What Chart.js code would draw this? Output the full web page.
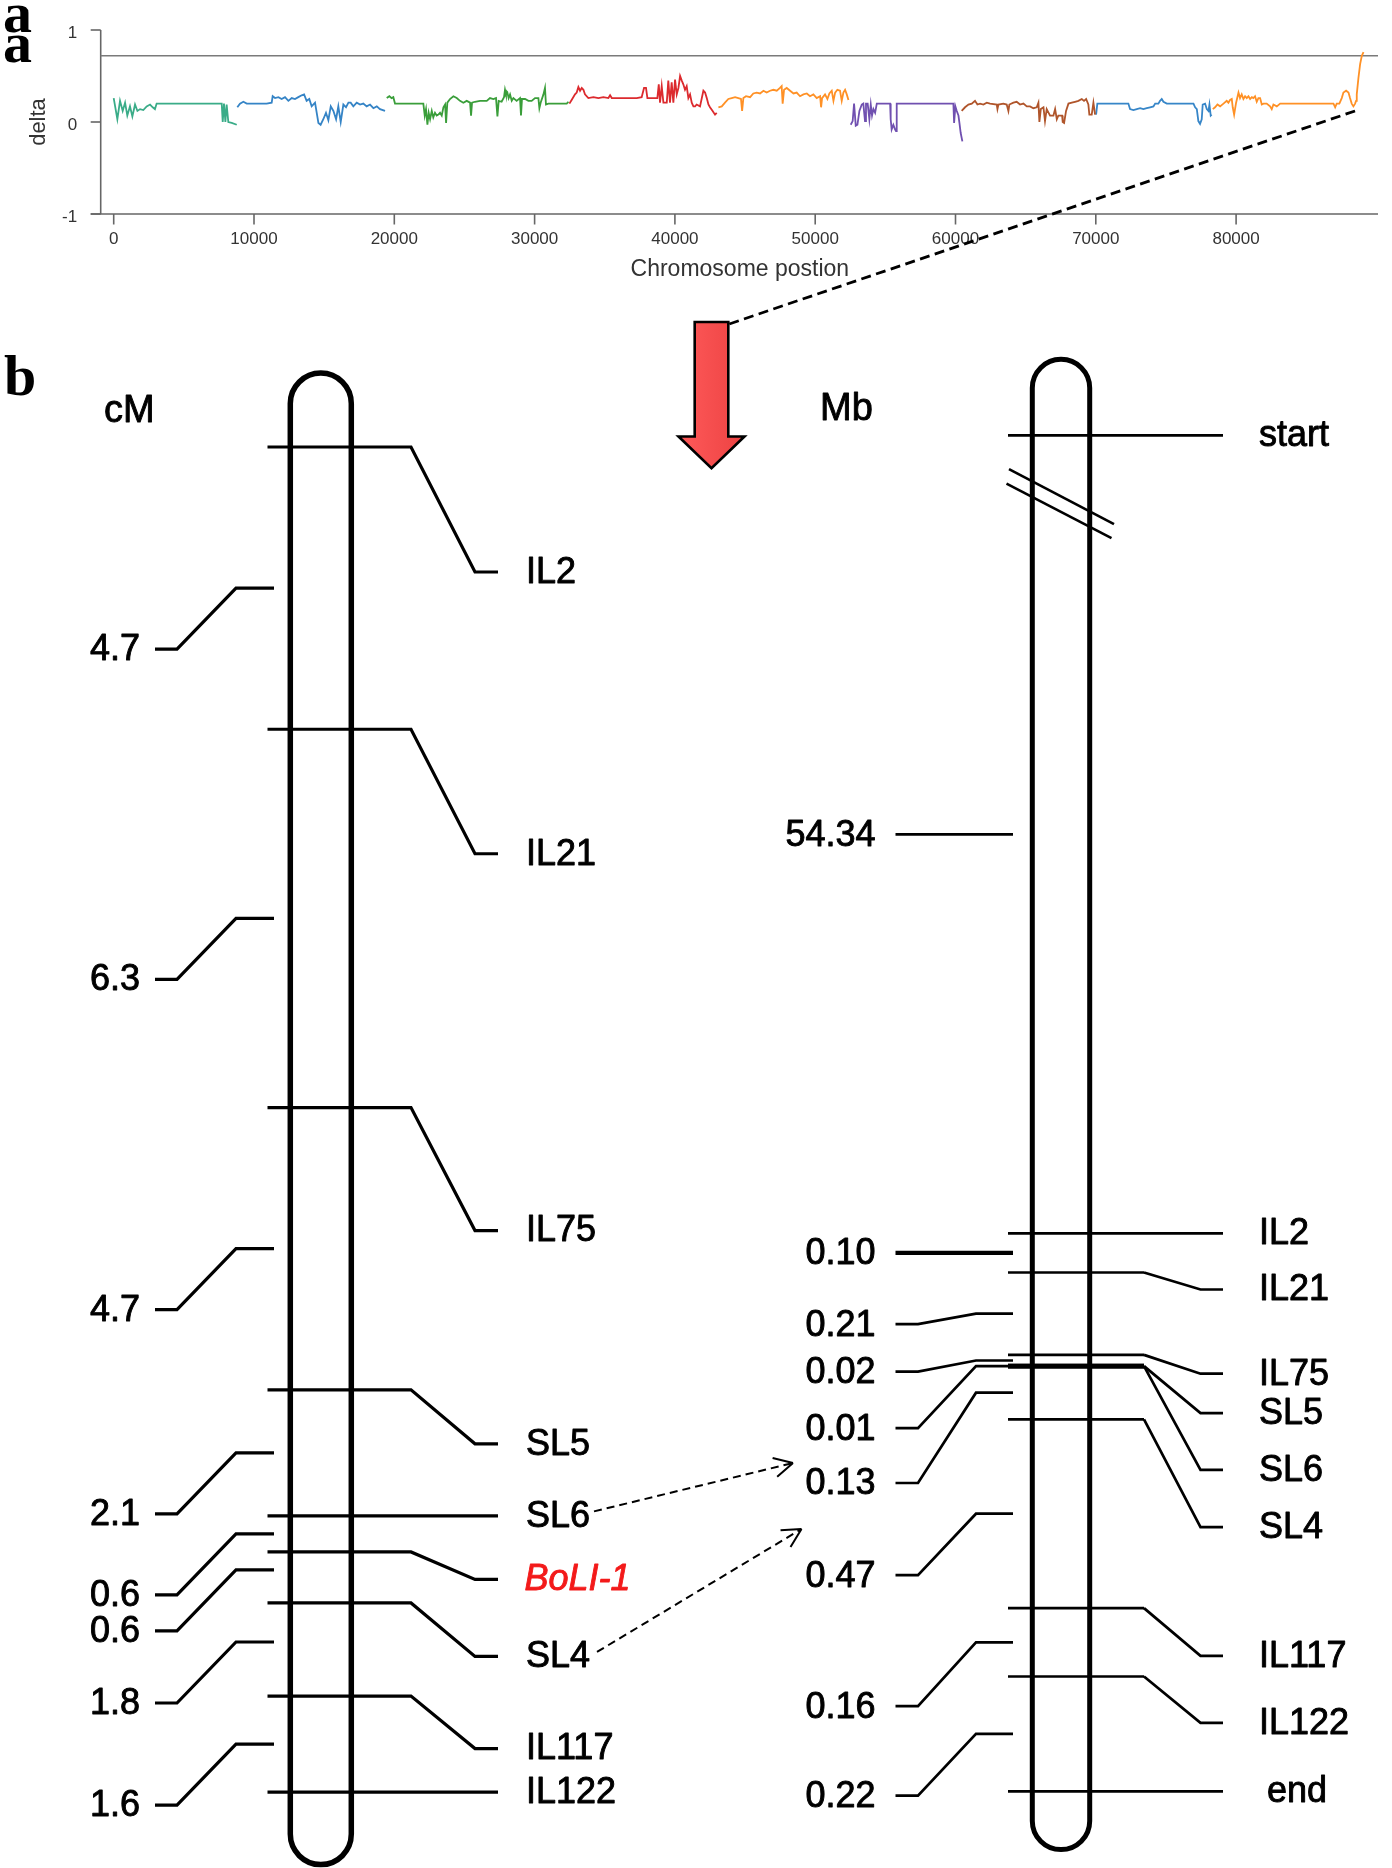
<!DOCTYPE html>
<html lang="en">
<head>
  <meta charset="UTF-8" />
  <title>delta along chromosome / BoLI-1 map</title>
  <style>
    html, body { margin: 0; padding: 0; background: #fff; }
    #wrap { position: relative; width: 1392px; height: 1868px; }
    canvas { position: absolute; left: 0; top: 0; }
    #mapChart { pointer-events: none; }
  </style>
</head>
<body>
  <div id="wrap">
    <canvas id="deltaChart" width="1392" height="290"></canvas>
    <canvas id="mapChart" width="1392" height="1868"></canvas>
  </div>

  <script src="https://cdn.jsdelivr.net/npm/chart.js"></script>
  <script>
    // ---------- panel a : delta along the chromosome ----------
    const xTicks = [0, 10000, 20000, 30000, 40000, 50000, 60000, 70000, 80000];
    const yTicks = [1, 0, -1];
    const threshold = 0.72;

    // [position, delta]
    const seg1 = [[0,0.26],[260,0.03],[450,0.23],[640,0.12],[810,0.21],[970,0.07],[1160,0.17],[1330,0.06],[1520,0.19],[1690,0.12],[1880,0.14],[2110,0.13],[2350,0.17],[2590,0.19],[2780,0.16],[2940,0.14],[3060,0.2],[3180,0.2],[7700,0.2],[7770,0.0],[7860,0.2],[7960,0.0],[8050,0.19],[8170,0.0],[8410,-0.01],[8770,-0.03]];
    const seg2 = [[8810,0.16],[9000,0.2],[9240,0.22],[9480,0.2],[10900,0.2],[11260,0.21],[11330,0.28],[11500,0.26],[11740,0.27],[11970,0.25],[12210,0.27],[12450,0.23],[12690,0.26],[12920,0.25],[13160,0.27],[13400,0.29],[13570,0.3],[13750,0.23],[13940,0.25],[14110,0.17],[14350,0.21],[14590,-0.01],[14750,-0.03],[14940,0.03],[15130,0.1],[15300,0.02],[15470,0.17],[15660,0.12],[15850,0.03],[16010,0.17],[16180,0.0],[16370,0.19],[16560,0.16],[16730,0.21],[16890,0.21],[17080,0.17],[17320,0.21],[17560,0.19],[17790,0.2],[18030,0.17],[18270,0.19],[18510,0.15],[18750,0.17],[18980,0.14],[19340,0.12]];
    const seg3 = [[19460,0.26],[19650,0.28],[19810,0.26],[19930,0.27],[20050,0.2],[22070,0.2],[22170,0.07],[22260,0.14],[22360,-0.03],[22450,0.1],[22550,0.03],[22670,0.12],[22780,0.05],[22900,0.1],[23020,0.07],[23140,0.08],[23260,0.1],[23380,0.07],[23500,0.16],[23620,0.19],[23690,-0.01],[23780,0.21],[23970,0.25],[24210,0.28],[24450,0.26],[24680,0.23],[24920,0.21],[25160,0.23],[25400,0.21],[25470,0.07],[25540,0.21],[25750,0.22],[26110,0.23],[26590,0.23],[26820,0.26],[27060,0.25],[27250,0.26],[27350,0.06],[27440,0.23],[27650,0.22],[27820,0.27],[27890,0.35],[27960,0.3],[28060,0.32],[28150,0.26],[28250,0.3],[28370,0.23],[28490,0.26],[28720,0.23],[28960,0.26],[29030,0.07],[29100,0.25],[29320,0.25],[29560,0.23],[29790,0.23],[30030,0.26],[30270,0.26],[30340,0.15],[30430,0.21],[30630,0.3],[30740,0.37],[30810,0.19],[30980,0.2],[32290,0.2],[32410,0.22]];
    const seg4 = [[32480,0.2],[32640,0.24],[32880,0.3],[33000,0.32],[33120,0.38],[33240,0.34],[33360,0.37],[33480,0.35],[33590,0.3],[33830,0.26],[34190,0.27],[34550,0.26],[34900,0.27],[35260,0.26],[35380,0.29],[35500,0.26],[35850,0.26],[36330,0.26],[36800,0.26],[37280,0.26],[37630,0.27],[37800,0.37],[37940,0.37],[38040,0.26],[38470,0.26],[38750,0.26],[38850,0.41],[38940,0.21],[39060,0.39],[39180,0.21],[39420,0.21],[39530,0.45],[39650,0.21],[39770,0.43],[39890,0.21],[40010,0.46],[40130,0.3],[40250,0.37],[40370,0.5],[40490,0.45],[40600,0.41],[40720,0.35],[40840,0.39],[40960,0.26],[41080,0.3],[41200,0.21],[41320,0.17],[41440,0.17],[41550,0.19],[41790,0.17],[42030,0.34],[42150,0.32],[42270,0.26],[42390,0.19],[42500,0.16],[42690,0.12],[42860,0.08],[42980,0.1]];
    const seg5 = [[43100,0.16],[43340,0.17],[43570,0.21],[43810,0.25],[44050,0.26],[44290,0.27],[44520,0.26],[44710,0.25],[44790,0.12],[44880,0.26],[45070,0.28],[45360,0.27],[45590,0.31],[45830,0.32],[46070,0.31],[46310,0.34],[46540,0.32],[46780,0.34],[47020,0.35],[47260,0.34],[47490,0.37],[47610,0.39],[47680,0.2],[47780,0.35],[47970,0.37],[48210,0.34],[48450,0.31],[48680,0.32],[48920,0.28],[49160,0.3],[49400,0.31],[49630,0.28],[49870,0.3],[50110,0.26],[50350,0.28],[50420,0.16],[50490,0.26],[50700,0.3],[50870,0.25],[51010,0.31],[51180,0.34],[51300,0.23],[51420,0.32],[51580,0.35],[51770,0.34],[51890,0.23],[52010,0.32],[52130,0.35],[52250,0.3],[52370,0.24]];
    const seg6 = [[52530,-0.03],[52670,0.01],[52770,0.2],[52890,-0.04],[53010,-0.03],[53150,0.12],[53320,0.19],[53430,0.2],[53550,0.01],[53620,0.2],[53740,0.2],[53860,0.03],[53960,0.19],[54050,0.07],[54150,0.14],[54270,0.1],[54390,0.2],[55340,0.2],[55380,0.03],[55450,-0.08],[55570,-0.03],[55690,-0.08],[55760,-0.1],[55810,0.2],[59850,0.2],[59900,-0.01],[59990,0.17],[60090,0.12],[60210,0.07],[60280,-0.01],[60370,-0.12],[60490,-0.21]];
    const seg7 = [[60440,0.12],[60680,0.16],[60920,0.19],[61160,0.2],[61390,0.23],[61560,0.19],[61750,0.2],[61990,0.19],[62230,0.21],[62460,0.2],[62940,0.19],[62990,0.14],[63060,0.19],[63410,0.2],[63650,0.19],[63770,0.12],[63840,0.19],[64130,0.21],[64360,0.22],[64600,0.19],[64840,0.2],[65080,0.17],[65310,0.17],[65550,0.15],[65790,0.16],[65910,0.21],[65980,0.0],[66080,0.14],[66270,0.16],[66380,0.01],[66500,0.14],[66740,0.07],[66980,0.07],[67100,0.14],[67220,0.03],[67330,0.07],[67600,0.07],[67640,0.0],[67740,-0.01],[67880,0.12],[68050,0.2],[68290,0.21],[68520,0.22],[68760,0.23],[69000,0.25],[69160,0.23],[69310,0.25],[69470,0.19],[69540,0.08],[69710,0.08],[69830,0.21],[69950,0.08]];
    const seg8 = [[70020,0.08],[70110,0.2],[72320,0.2],[72440,0.14],[72680,0.13],[72920,0.14],[73160,0.15],[73390,0.14],[73630,0.15],[73870,0.16],[74110,0.17],[74230,0.2],[74460,0.2],[74580,0.23],[74700,0.25],[74820,0.22],[75060,0.2],[76960,0.2],[77080,0.16],[77200,0.14],[77310,0.01],[77430,-0.02],[77550,0.03],[77620,0.19],[77790,0.2],[77910,0.14],[78030,0.12],[78100,0.19],[78190,0.07],[78260,0.08]];
    const seg9 = [[78340,0.14],[78500,0.16],[78670,0.19],[78860,0.17],[79100,0.2],[79330,0.23],[79450,0.21],[79570,0.24],[79690,0.25],[79760,0.16],[79860,0.08],[80000,0.21],[80170,0.32],[80280,0.26],[80400,0.3],[80520,0.25],[80640,0.28],[80760,0.26],[80880,0.28],[81000,0.25],[81120,0.27],[81230,0.26],[81350,0.28],[81470,0.22],[81590,0.26],[81710,0.26],[81830,0.19],[81950,0.2],[82180,0.2],[82420,0.17],[82540,0.14],[82660,0.19],[82900,0.17],[83140,0.2],[83370,0.2],[86460,0.2],[86940,0.2],[87060,0.16],[87170,0.2],[87360,0.2],[87530,0.26],[87650,0.32],[87840,0.34],[88010,0.32],[88120,0.26],[88240,0.2],[88360,0.17],[88480,0.2],[88550,0.23],[88600,0.3],[88720,0.48],[88840,0.63],[88960,0.72],[89080,0.76]];
    const segments = [seg1, seg2, seg3, seg4, seg5, seg6, seg7, seg8, seg9];

    // ---------- panel b : genetic (cM) and physical (Mb) maps ----------
    const cmMarkers = ["IL2", "IL21", "IL75", "SL5", "SL6", "BoLI-1", "SL4", "IL117", "IL122"];
    const cmMarkerPos = [0, 4.7, 11.0, 15.7, 17.8, 18.4, 19.25, 20.8, 22.4];
    const cmIntervals = [4.7, 6.3, 4.7, 2.1, 0.6, 0.6, 1.8, 1.6];

    const mbMarkers = ["start", "IL2", "IL21", "IL75", "SL5", "SL6", "SL4", "IL117", "IL122", "end"];
    // drawn positions (Mb from IL2, the part above IL2 is broken)
    const mbMarkerPos = [-1.995, 0, 0.098, 0.304, 0.332, 0.332, 0.465, 0.937, 1.108, 1.395];
    const mbIntervals = ["54.34", "0.10", "0.21", "0.02", "0.01", "0.13", "0.47", "0.16", "0.22"];

    // ---------- styles / layout ----------
    const segColors = ["#3aac88", "#3584c6", "#3a9e3a", "#dc2a2e", "#ff9126", "#7050b0", "#b0552b", "#3786c8", "#ff9126"];
    const SANS = '"Liberation Sans", Arial, sans-serif';
    const SERIF = '"Liberation Serif", "Times New Roman", serif';

    const MAP = {
      left: {
        cx: 320.8, half: 30.5, capTop: 74, capBottom: 72.5, tubeW: 5.5, lineW: 3.2,
        x0: 267.5, xBend: 411, xDiag: 475, xEnd: 498, labelX: 526,
        labelDy: [125, 124.5, 123, 54, 0, 27.5, 53.5, 52.5, 0],
        t0: 274, t1: 236, tDiag: 177, tEnd: 155, valX: 140, intDy: 61
      },
      right: {
        cx: 1061, half: 28.7, capTop: 76, capBottom: 58.3, tubeW: 5, lineW: 2.7,
        x0: 1008, xBend: 1144, xDiag: 1200.5, xEnd: 1223, labelX: 1259,
        labelDy: [0, 0, 17, 18.8, 47, 103.7, 107.8, 47.8, 46.4, 0],
        labelDx: { end: 8 },
        t0: 1013, t1: 976, tDiag: 918, tEnd: 895.5, valX: 875.5,
        intDy: [0, 0, 10.5, 11.1, 62, 90.3, 61.4, 63.9, 61.8],
        thickInt: [1], breakDy: 68.4
      },
      arrow: { cx: 711.5, top: 322, headY: 436.5, tipY: 468.3, shaftHalf: 16.8, headHalf: 33 },
      zoomFrom: [88480, 0.12],
      links: [
        { marker: "SL6", x0: 594, dy0: -4.5, interval: 5, x1: 793, dy1: -20 },
        { marker: "SL4", x0: 597, dy0: -4.5, interval: 5, x1: 801.5, dy1: 46 }
      ]
    };

    function text(ctx, s, x, y, font, align, color, base, heavy) {
      ctx.font = font;
      ctx.fillStyle = color || "#000";
      ctx.textAlign = align || "left";
      ctx.textBaseline = base || "middle";
      ctx.fillText(s, x, y);
      if (heavy) {
        ctx.save();
        ctx.setLineDash([]);
        ctx.lineJoin = "round";
        ctx.lineWidth = heavy;
        ctx.strokeStyle = color || "#000";
        ctx.strokeText(s, x, y);
        ctx.restore();
      }
    }

    // axes of panel a, drawn like the original plot
    const deltaAxes = {
      id: "deltaAxes",
      beforeDatasetsDraw(chart) {
        const { ctx, chartArea: a } = chart;
        const x = chart.scales.x, y = chart.scales.y;
        const line = (x1, y1, x2, y2) => { ctx.beginPath(); ctx.moveTo(x1, y1); ctx.lineTo(x2, y2); ctx.stroke(); };
        ctx.save();
        ctx.strokeStyle = "#666";
        ctx.lineWidth = 1.6;
        const yb = y.getPixelForValue(-1);
        line(a.left, y.getPixelForValue(1), a.left, yb);
        line(a.left - 10, yb, a.right, yb);
        yTicks.forEach(v => {
          const py = y.getPixelForValue(v);
          line(a.left - 10, py, a.left, py);
          text(ctx, String(v), a.left - 23.5, py + 7.5, "17px " + SANS, "right", "#333", "alphabetic");
        });
        xTicks.forEach(v => {
          const px = x.getPixelForValue(v);
          line(px, yb, px, yb + 10.5);
          text(ctx, String(v), px, yb + 29.5, "17px " + SANS, "center", "#333", "alphabetic");
        });
        ctx.strokeStyle = "#7a7a7a";
        ctx.lineWidth = 1.6;
        const yt = y.getPixelForValue(threshold);
        line(a.left, yt, a.right, yt);

        text(ctx, "Chromosome postion", (a.left + a.right) / 2 + 0.5, 276, "23px " + SANS, "center", "#333", "alphabetic");
        ctx.save();
        ctx.translate(39, (y.getPixelForValue(1) + yb) / 2);
        ctx.rotate(-Math.PI / 2);
        text(ctx, "delta", 0, 0, "22px " + SANS, "center", "#333", "middle");
        ctx.restore();
        ctx.restore();
      },
      afterDraw(chart) {
        const { ctx } = chart;
        text(ctx, "a", 3, 32, "bold 58px " + SERIF, "left", "#000", "alphabetic");
        text(ctx, "a", 3, 62, "bold 58px " + SERIF, "left", "#000", "alphabetic");
      }
    };

    const deltaChart = new Chart(document.getElementById("deltaChart"), {
      type: "line",
      data: {
        datasets: segments.map((seg, i) => ({
          data: seg.map(p => ({ x: p[0], y: p[1] })),
          borderColor: segColors[i],
          borderWidth: 1.8,
          pointRadius: 0,
          tension: 0,
          fill: false
        }))
      },
      options: {
        responsive: false,
        animation: false,
        events: [],
        layout: { padding: { left: 100.7, right: 14, top: 30, bottom: 76 } },
        plugins: { legend: { display: false }, tooltip: { enabled: false } },
        scales: {
          x: { type: "linear", display: false, min: -927, max: 90114 },
          y: { type: "linear", display: false, min: -1, max: 1 }
        }
      },
      plugins: [deltaAxes]
    });

    // the two maps of panel b
    const mapDraw = {
      id: "mapDraw",
      afterDraw(chart) {
        const { ctx } = chart;
        const X = v => chart.scales.x.getPixelForValue(v);
        const Y = v => chart.scales.y.getPixelForValue(v);
        const YC = v => chart.scales.cM.getPixelForValue(v);
        const YM = v => chart.scales.Mb.getPixelForValue(v);
        const LABEL = "36px " + SANS;
        const HEAVY = 0.9;

        const poly = (pts, lw) => {
          ctx.lineWidth = lw;
          ctx.beginPath();
          pts.forEach((p, i) => i ? ctx.lineTo(X(p[0]), p[1]) : ctx.moveTo(X(p[0]), p[1]));
          ctx.stroke();
        };
        const tube = (cx, half, top, bottom, lw) => {
          ctx.lineWidth = lw;
          ctx.beginPath();
          ctx.moveTo(X(cx - half), top + half);
          ctx.arc(X(cx), top + half, half, Math.PI, 0);
          ctx.lineTo(X(cx + half), bottom - half);
          ctx.arc(X(cx), bottom - half, half, 0, Math.PI);
          ctx.closePath();
          ctx.stroke();
        };

        ctx.save();
        ctx.strokeStyle = "#000";
        ctx.lineJoin = "miter";

        // ----- genetic map (cM) -----
        const L = MAP.left;
        const ly = cmMarkerPos.map(YC);
        tube(L.cx, L.half, ly[0] - L.capTop, ly[ly.length - 1] + L.capBottom, L.tubeW);
        const leftLabelY = {};
        cmMarkers.forEach((name, i) => {
          const y = ly[i], dy = L.labelDy[i];
          if (dy === 0) poly([[L.x0, y], [L.xEnd, y]], L.lineW);
          else poly([[L.x0, y], [L.xBend, y], [L.xDiag, y + dy], [L.xEnd, y + dy]], L.lineW);
          leftLabelY[name] = y + dy;
          if (name === "BoLI-1") text(ctx, name, X(L.labelX - 1.5), y + dy + 1, "italic " + LABEL, "left", "#f31a1a", "middle", HEAVY);
          else text(ctx, name, X(L.labelX), y + dy + 1, LABEL, "left", "#000", "middle", HEAVY);
        });
        const cum = [0];
        cmIntervals.forEach(v => cum.push(cum[cum.length - 1] + v));
        cmIntervals.forEach((v, i) => {
          const y = YC((cum[i] + cum[i + 1]) / 2), yl = y + L.intDy;
          poly([[L.t0, y], [L.t1, y], [L.tDiag, yl], [L.tEnd, yl]], L.lineW);
          text(ctx, v.toFixed(1), X(L.valX), yl + 1, LABEL, "right", "#000", "middle", HEAVY);
        });

        // ----- physical map (Mb) -----
        const R = MAP.right;
        const ry = mbMarkerPos.map(YM);
        tube(R.cx, R.half, ry[0] - R.capTop, ry[ry.length - 1] + R.capBottom, R.tubeW);
        mbMarkers.forEach((name, i) => {
          const y = ry[i], dy = R.labelDy[i];
          const shared = mbMarkerPos.filter(p => p === mbMarkerPos[i]).length > 1;
          const lw = shared ? 4.6 : R.lineW;
          if (dy === 0) poly([[R.x0, y], [R.xEnd, y]], lw);
          else {
            poly([[R.x0, y], [R.xBend, y]], lw);
            poly([[R.xBend, y], [R.xDiag, y + dy], [R.xEnd, y + dy]], R.lineW);
          }
          const dx = R.labelDx[name] || 0;
          text(ctx, name, X(R.labelX + dx), y + dy + 1, LABEL, "left", "#000", "middle", HEAVY);
        });
        const rightIntY = [];
        mbIntervals.forEach((v, i) => {
          const y = YM((mbMarkerPos[i] + mbMarkerPos[i + 1]) / 2), dy = R.intDy[i];
          const lw = R.thickInt.includes(i) ? 4.4 : R.lineW;
          if (dy === 0) poly([[R.t0, y], [R.tEnd, y]], lw);
          else poly([[R.t0, y], [R.t1, y], [R.tDiag, y + dy], [R.tEnd, y + dy]], lw);
          rightIntY.push(y + dy);
          text(ctx, v, X(R.valX), y + dy + 1.5, LABEL, "right", "#000", "middle", HEAVY);
        });
        // break marks below "start"
        const by = ry[0] + R.breakDy;
        poly([[R.cx - 52, by - 34.5], [R.cx + 53, by + 20.5]], 2.6);
        poly([[R.cx - 54.5, by - 20], [R.cx + 50.5, by + 34.5]], 2.6);

        // ----- headings -----
        text(ctx, "b", X(4), Y(395), "bold 58px " + SERIF, "left", "#000", "alphabetic");
        text(ctx, "cM", X(104), Y(412), "38px " + SANS, "left", "#000", "middle", HEAVY);
        text(ctx, "Mb", X(820), Y(410), "38px " + SANS, "left", "#000", "middle", HEAVY);

        // ----- red arrow from panel a -----
        const A = MAP.arrow;
        ctx.beginPath();
        ctx.moveTo(X(A.cx - A.shaftHalf), Y(A.top));
        ctx.lineTo(X(A.cx + A.shaftHalf), Y(A.top));
        ctx.lineTo(X(A.cx + A.shaftHalf), Y(A.headY));
        ctx.lineTo(X(A.cx + A.headHalf), Y(A.headY));
        ctx.lineTo(X(A.cx), Y(A.tipY));
        ctx.lineTo(X(A.cx - A.headHalf), Y(A.headY));
        ctx.lineTo(X(A.cx - A.shaftHalf), Y(A.headY));
        ctx.closePath();
        const grad = ctx.createLinearGradient(X(A.cx - A.headHalf), 0, X(A.cx + A.headHalf), 0);
        grad.addColorStop(0, "#ff5a5a");
        grad.addColorStop(1, "#ec4242");
        ctx.fillStyle = grad;
        ctx.fill();
        ctx.lineWidth = 2.6;
        ctx.stroke();

        // dashed zoom line to the end of the delta curve
        const zx = deltaChart.scales.x.getPixelForValue(MAP.zoomFrom[0]);
        const zy = deltaChart.scales.y.getPixelForValue(MAP.zoomFrom[1]);
        ctx.setLineDash([10, 5.5]);
        poly([[A.cx + A.shaftHalf + 1, Y(A.top + 2)], [zx, zy]], 2.8);

        // dashed arrows SL6 / SL4 -> physical map
        ctx.setLineDash([8, 5]);
        MAP.links.forEach(k => {
          const y0 = leftLabelY[k.marker] + k.dy0;
          const y1 = rightIntY[k.interval] + k.dy1;
          poly([[k.x0, y0], [k.x1, y1]], 2);
          const ang = Math.atan2(y1 - y0, X(k.x1) - X(k.x0));
          ctx.setLineDash([]);
          ctx.lineWidth = 2;
          ctx.beginPath();
          [-0.48, 0.48].forEach(d => {
            ctx.moveTo(X(k.x1), y1);
            ctx.lineTo(X(k.x1) - 21 * Math.cos(ang + d), y1 - 21 * Math.sin(ang + d));
          });
          ctx.stroke();
          ctx.setLineDash([8, 5]);
        });
        ctx.setLineDash([]);
        ctx.restore();
      }
    };

    new Chart(document.getElementById("mapChart"), {
      type: "scatter",
      data: { datasets: [] },
      options: {
        responsive: false,
        animation: false,
        events: [],
        layout: { padding: 0 },
        plugins: { legend: { display: false }, tooltip: { enabled: false } },
        scales: {
          x: { type: "linear", display: false, min: 0, max: 1392 },
          y: { type: "linear", display: false, min: 0, max: 1868, reverse: true },
          cM: { type: "linear", axis: "y", display: false, reverse: true, min: -447 / 60.05, max: (1868 - 447) / 60.05 },
          Mb: { type: "linear", axis: "y", display: false, reverse: true, min: -1233.3 / 400, max: (1868 - 1233.3) / 400 }
        }
      },
      plugins: [mapDraw]
    });
  </script>
</body>
</html>
